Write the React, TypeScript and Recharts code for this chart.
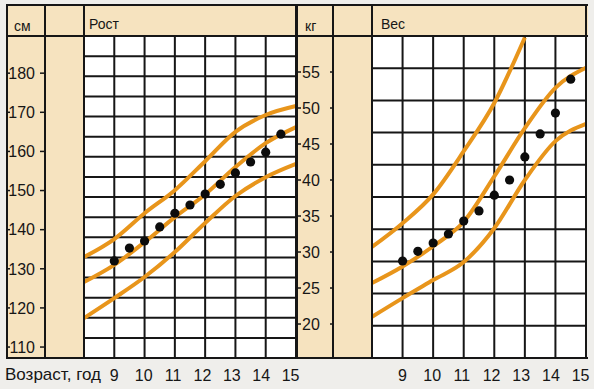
import { ComposedChart, Line, Scatter, XAxis, YAxis, CartesianGrid } from 'recharts';

// возраст, лет
const AGES = [8, 9, 10, 11, 12, 13, 14, 15];
const AGE_TICKS = [8, 9, 10, 11, 12, 13, 14, 15];
const CHILD_AGES = [9, 9.5, 10, 10.5, 11, 11.5, 12, 12.5, 13, 13.5, 14, 14.5];

// Рост, см
const HEIGHT_UPPER = [133.0, 137.6, 144.2, 150.1, 157.5, 165.0, 169.3, 171.6];
const HEIGHT_MIDDLE = [126.6, 131.0, 136.8, 143.2, 149.0, 156.0, 162.1, 166.2];
const HEIGHT_LOWER = [117.4, 122.5, 127.9, 134.3, 141.7, 148.6, 153.4, 156.8];
const CHILD_HEIGHT = [132.0, 135.3, 137.1, 140.7, 144.2, 146.3, 149.1, 151.6, 154.5, 157.3, 159.8, 164.4];
const HEIGHT_TICKS = [110, 120, 130, 140, 150, 160, 170, 180];

// Вес, кг
const WEIGHT_UPPER = [30.7, 34.0, 38.0, 44.0, 50.7, 59.8, null, null];
const WEIGHT_MIDDLE = [25.7, 28.0, 30.8, 34.2, 40.5, 47.2, 52.8, 55.6];
const WEIGHT_LOWER = [21.0, 23.6, 26.1, 28.6, 33.3, 40.0, 45.4, 47.8];
const CHILD_WEIGHT = [28.75, 30.1, 31.25, 32.5, 34.3, 35.7, 37.9, 40.0, 43.2, 46.4, 49.3, 54.0];
const WEIGHT_TICKS = [20, 25, 30, 35, 40, 45, 50, 55];

const BEIGE = '#f6e3bf';
const INK = '#161616';
const ORANGE = '#e8951b';
const FONT = '"Liberation Sans", Arial, sans-serif';

const heightRows = AGES.map((age, i) => ({
    age,
    upper: HEIGHT_UPPER[i],
    middle: HEIGHT_MIDDLE[i],
    lower: HEIGHT_LOWER[i],
}));
const heightDots = CHILD_AGES.map((age, i) => ({ age, value: CHILD_HEIGHT[i] }));

const weightRows = AGES.map((age, i) => ({
    age,
    upper: WEIGHT_UPPER[i],
    middle: WEIGHT_MIDDLE[i],
    lower: WEIGHT_LOWER[i],
}));
const weightDots = CHILD_AGES.map((age, i) => ({ age, value: CHILD_WEIGHT[i] }));

function rows(count: number) {
    // горизонтальные линии сетки не совпадают с делениями шкалы
    return (props: any) => {
        const top = props?.offset?.top ?? 36;
        const h = props?.offset?.height ?? 322;
        return Array.from({ length: count + 1 }, (_, i) => top + (h * i) / count);
    };
}

function AgeTick(props: any) {
    const { x, y, payload } = props;
    if (payload.value === 8) return <g />;
    const dx = -(payload.value - 9) * 0.9;
    return (
        <text x={x + dx} y={y + 23} textAnchor="middle" fontSize={16} fontFamily={FONT} fill={INK}>
            {payload.value}
        </text>
    );
}

function HeightTick(props: any) {
    const { x, y, payload } = props;
    return (
        <g>
            <line x1={x - 77} x2={x - 74} y1={y} y2={y} stroke={INK} strokeWidth={1.5} />
            <text x={x - 49} y={y} dy="0.36em" textAnchor="end" fontSize={16} fontFamily={FONT} fill={INK}>
                {payload.value}
            </text>
            <line x1={x - 44} x2={x - 39} y1={y} y2={y} stroke={INK} strokeWidth={1.5} />
        </g>
    );
}

function WeightTick(props: any) {
    const { x, y, payload } = props;
    return (
        <g>
            <line x1={x - 76} x2={x - 71} y1={y} y2={y} stroke={INK} strokeWidth={1.5} />
            <text x={x - 70} y={y} dy="0.36em" textAnchor="start" fontSize={16} fontFamily={FONT} fill={INK}>
                {payload.value}
            </text>
            <line x1={x - 42} x2={x - 38} y1={y} y2={y} stroke={INK} strokeWidth={1.5} />
        </g>
    );
}

const dot = (p: any) => <circle cx={p.cx} cy={p.cy} r={4.6} fill="#0c0c0c" />;

const box = (left: number, top: number, width: number, height: number, bg: string) => (
    <div style={{ position: 'absolute', left, top, width, height, background: bg }} />
);

const label = (left: number, top: number, text: string, size = 14) => (
    <div style={{ position: 'absolute', left, top, fontFamily: FONT, fontSize: size, color: INK, lineHeight: 1 }}>
        {text}
    </div>
);

export default function App() {
    return (
        <div style={{ position: 'relative', width: 594, height: 389, background: '#efeeeb', overflow: 'hidden' }}>
            <style>{'body{margin:0}'}</style>

            {/* бежевые колонки и шапка */}
            {box(7, 5, 581, 31, BEIGE)}
            {box(7, 36, 77, 323, BEIGE)}
            {box(296, 36, 76, 323, BEIGE)}

            {label(14, 19, 'см')}
            {label(89, 17, 'Рост')}
            {label(305, 19, 'кг')}
            {label(381, 17, 'Вес')}
            {label(5, 366, 'Возраст, год', 17)}

            <div style={{ position: 'absolute', left: 0, top: 0 }}>
                <ComposedChart
                    width={300}
                    height={389}
                    data={heightRows}
                    margin={{ top: 36, right: 4, bottom: 0, left: 7 }}
                >
                    <CartesianGrid
                        fill="#ffffff"
                        stroke={INK}
                        strokeWidth={2}
                        horizontalCoordinatesGenerator={rows(16)}
                    />
                    <XAxis
                        type="number"
                        dataKey="age"
                        domain={[8, 15]}
                        ticks={AGE_TICKS}
                        height={31}
                        tickSize={0}
                        tickMargin={0}
                        axisLine={false}
                        tickLine={false}
                        tick={AgeTick}
                        interval={0}
                    />
                    <YAxis
                        type="number"
                        domain={[107.2, 189.5]}
                        ticks={HEIGHT_TICKS}
                        width={77}
                        tickSize={0}
                        tickMargin={0}
                        axisLine={false}
                        tickLine={false}
                        tick={HeightTick}
                        interval={0}
                        allowDataOverflow
                    />
                    <Line dataKey="upper" type="monotone" stroke={ORANGE} strokeWidth={4} dot={false} isAnimationActive={false} />
                    <Line dataKey="middle" type="monotone" stroke={ORANGE} strokeWidth={4} dot={false} isAnimationActive={false} />
                    <Line dataKey="lower" type="monotone" stroke={ORANGE} strokeWidth={4} dot={false} isAnimationActive={false} />
                    <Scatter data={heightDots} dataKey="value" shape={dot} isAnimationActive={false} />
                </ComposedChart>
            </div>

            <div style={{ position: 'absolute', left: 296, top: 0 }}>
                <ComposedChart
                    width={298}
                    height={389}
                    data={weightRows}
                    margin={{ top: 36, right: 8, bottom: 0, left: 0 }}
                >
                    <CartesianGrid
                        fill="#ffffff"
                        stroke={INK}
                        strokeWidth={2}
                        horizontalCoordinatesGenerator={rows(10)}
                    />
                    <XAxis
                        type="number"
                        dataKey="age"
                        domain={[8, 15]}
                        ticks={AGE_TICKS}
                        height={31}
                        tickSize={0}
                        tickMargin={0}
                        axisLine={false}
                        tickLine={false}
                        tick={AgeTick}
                        interval={0}
                    />
                    <YAxis
                        type="number"
                        domain={[15.28, 60.0]}
                        ticks={WEIGHT_TICKS}
                        width={76}
                        tickSize={0}
                        tickMargin={0}
                        axisLine={false}
                        tickLine={false}
                        tick={WeightTick}
                        interval={0}
                        allowDataOverflow
                    />
                    <Line dataKey="upper" type="monotone" stroke={ORANGE} strokeWidth={4} dot={false} isAnimationActive={false} />
                    <Line dataKey="middle" type="monotone" stroke={ORANGE} strokeWidth={4} dot={false} isAnimationActive={false} />
                    <Line dataKey="lower" type="monotone" stroke={ORANGE} strokeWidth={4} dot={false} isAnimationActive={false} />
                    <Scatter data={weightDots} dataKey="value" shape={dot} isAnimationActive={false} />
                </ComposedChart>
            </div>

            {/* рамка таблицы */}
            {box(7, 4, 581, 2, INK)}
            {box(7, 35, 581, 2, INK)}
            {box(7, 357, 581, 2, INK)}
            {box(6, 4, 2, 355, INK)}
            {box(44, 4, 2, 355, INK)}
            {box(83, 4, 2, 355, INK)}
            {box(295, 4, 3, 355, INK)}
            {box(332, 4, 2, 355, INK)}
            {box(371, 4, 2, 355, INK)}
            {box(585, 4, 2, 355, INK)}
        </div>
    );
}
